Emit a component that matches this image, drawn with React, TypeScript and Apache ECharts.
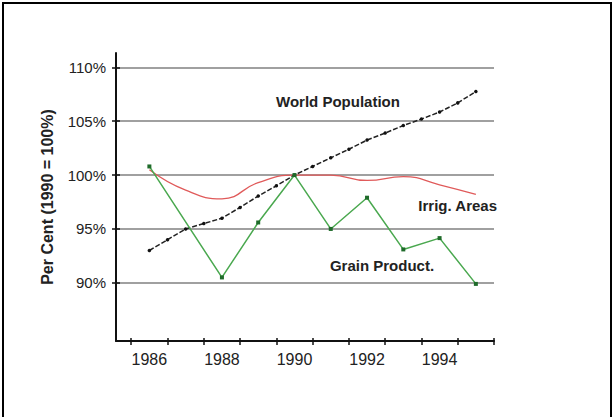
import React, { useEffect, useRef } from "react";
import * as echarts from "echarts";

const years = [1986, 1987, 1988, 1989, 1990, 1991, 1992, 1993, 1994, 1995];
const xTickValues = [1985.5, 1986.5, 1987.5, 1988.5, 1989.5, 1990.5, 1991.5, 1992.5, 1993.5, 1994.5, 1995.5];
const xLabelValues = [1986, 1988, 1990, 1992, 1994];
const yTickValues = [90, 95, 100, 105, 110];

const popYears = [1986, 1986.5, 1987, 1987.5, 1988, 1988.5, 1989, 1989.5, 1990, 1990.5, 1991, 1991.5, 1992, 1992.5, 1993, 1993.5, 1994, 1994.5, 1995];
const popValues = [93.0, 94.0, 95.0, 95.5, 96.0, 97.0, 98.05, 99.0, 100, 100.8, 101.6, 102.4, 103.25, 103.9, 104.6, 105.2, 105.85, 106.7, 107.75];

const grainYears = [1986, 1988, 1989, 1990, 1991, 1992, 1993, 1994, 1995];
const grainValues = [100.8, 90.5, 95.6, 100, 95.0, 97.9, 93.1, 94.15, 89.9];

const irrigValues = [100.5, 98.6, 97.8, 99.3, 100, 100.0, 99.5, 99.85, 99.1, 98.2];

const pair = (xs: number[], ys: number[]) => xs.map((x, i) => [x, ys[i]]);

const X_MIN = 1985.08;
const X_MAX = 1995.5;
const Y_MIN = 84.6;
const Y_MAX = 111.33;

export default function App() {
  const ref = useRef<HTMLDivElement>(null);
  useEffect(() => {
    if (!ref.current) return;
    const chart = echarts.init(ref.current, undefined, { renderer: "svg" });
    const font = "'Liberation Sans', Arial, sans-serif";
    chart.setOption({
      animation: false,
      backgroundColor: "#ffffff",
      grid: { left: 116, top: 53, width: 378, height: 288 },
      xAxis: [
        {
          type: "value",
          min: X_MIN,
          max: X_MAX,
          position: "bottom",
          axisLine: { show: true, lineStyle: { color: "#111", width: 2 } },
          axisTick: { show: true, customValues: xTickValues, length: 4, lineStyle: { color: "#111", width: 1.5 } },
          axisLabel: {
            customValues: xLabelValues,
            formatter: (v: number) => String(Math.round(v)),
            fontFamily: font,
            fontSize: 16,
            color: "#222",
            margin: 10,
          },
          splitLine: { show: false },
        },
        {
          type: "value",
          min: X_MIN,
          max: X_MAX,
          position: "bottom",
          offset: 0,
          axisLine: { show: false },
          axisTick: { show: true, inside: true, customValues: xTickValues, length: 3, lineStyle: { color: "#111", width: 1.5 } },
          axisLabel: { show: false },
          splitLine: { show: false },
        },
      ],
      yAxis: [
        {
          type: "value",
          min: Y_MIN,
          max: Y_MAX,
          position: "left",
          name: "Per Cent (1990 = 100%)",
          nameLocation: "middle",
          nameRotate: 90,
          nameGap: 61,
          nameTextStyle: { fontFamily: font, fontSize: 16, fontWeight: "bold", color: "#222" },
          axisLine: { show: true, lineStyle: { color: "#111", width: 2 } },
          axisTick: { show: true, customValues: yTickValues, length: 4, lineStyle: { color: "#111", width: 1.5 } },
          axisLabel: {
            customValues: yTickValues,
            formatter: (v: number) => Math.round(v) + "%",
            fontFamily: font,
            fontSize: 15,
            color: "#222",
            margin: 10,
          },
          splitLine: { show: true, lineStyle: { color: "#808080", width: 1.5 } },
        },
        {
          type: "value",
          min: Y_MIN,
          max: Y_MAX,
          position: "left",
          offset: 0,
          axisLine: { show: false },
          axisTick: { show: true, inside: true, customValues: yTickValues, length: 4, lineStyle: { color: "#111", width: 1.5 } },
          axisLabel: { show: false },
          splitLine: { show: false },
        },
      ],
      series: [
        {
          name: "Irrig. Areas",
          type: "line",
          data: pair(years, irrigValues),
          smooth: 0.5,
          showSymbol: false,
          symbol: "none",
          lineStyle: { color: "#e05a5a", width: 1.3 },
          z: 3,
        },
        {
          name: "World Population",
          type: "line",
          data: pair(popYears, popValues),
          symbol: "circle",
          symbolSize: 3.5,
          itemStyle: { color: "#111" },
          lineStyle: { color: "#222", width: 1.5, type: [5, 2] },
          z: 4,
        },
        {
          name: "Grain Product.",
          type: "line",
          data: pair(grainYears, grainValues),
          symbol: "rect",
          symbolSize: 4,
          itemStyle: { color: "#1f6b2a" },
          lineStyle: { color: "#4aa84f", width: 1.5 },
          z: 5,
        },
      ],
      graphic: [
        {
          type: "text",
          x: 338,
          y: 101,
          style: { text: "World Population", font: `bold 15px ${font}`, fill: "#222", align: "center", verticalAlign: "middle" },
        },
        {
          type: "text",
          x: 382,
          y: 265,
          style: { text: "Grain Product.", font: `bold 15px ${font}`, fill: "#222", align: "center", verticalAlign: "middle" },
        },
        {
          type: "text",
          x: 497,
          y: 205,
          style: { text: "Irrig. Areas", font: `bold 15px ${font}`, fill: "#222", align: "right", verticalAlign: "middle" },
        },
      ],
    });
    return () => chart.dispose();
  }, []);
  return (
    <div style={{ position: "fixed", left: 0, top: 0, width: 614, height: 417, background: "#fff" }}>
      <div ref={ref} style={{ position: "absolute", left: 0, top: 0, width: 614, height: 417 }} />
      <div
        style={{
          position: "absolute",
          left: 2,
          top: 2,
          width: 606,
          height: 420,
          borderLeft: "2px solid #000",
          borderTop: "2px solid #000",
          borderRight: "2px solid #000",
          pointerEvents: "none",
        }}
      />
    </div>
  );
}
